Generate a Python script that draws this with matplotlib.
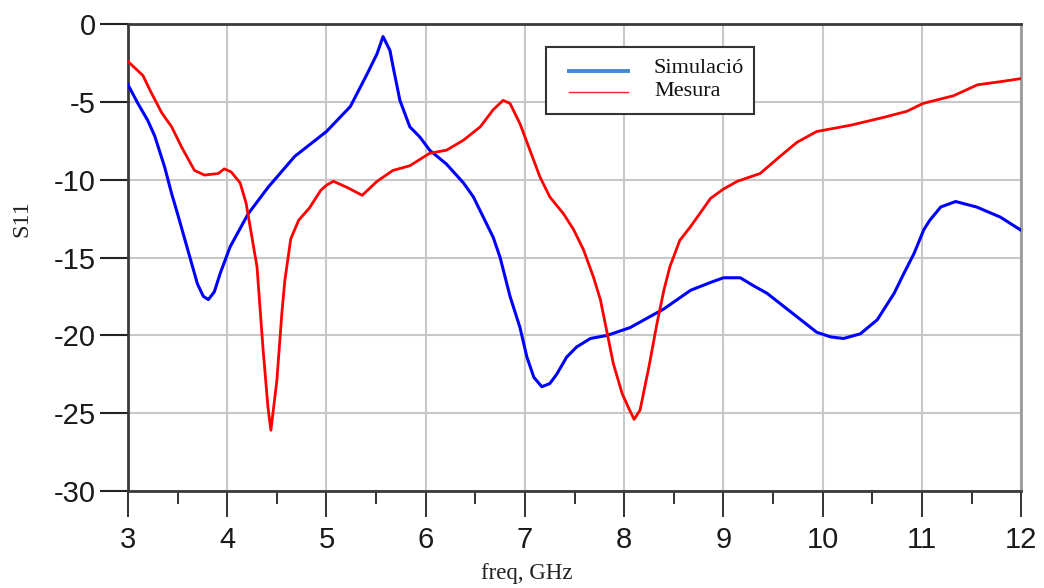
import matplotlib

matplotlib.use("Agg")
import matplotlib.pyplot as plt  # noqa: E402
from matplotlib.lines import Line2D  # noqa: E402
from matplotlib.patches import Rectangle  # noqa: E402
from matplotlib.ticker import MultipleLocator  # noqa: E402

plt.rcParams["axes.unicode_minus"] = False

sim_f = [3.0, 3.10, 3.20, 3.27, 3.37, 3.44, 3.50, 3.54, 3.70, 3.76, 3.81, 3.87,
         3.93, 4.03, 4.21, 4.41, 4.68, 5.0, 5.24, 5.41, 5.51, 5.57, 5.64, 5.67,
         5.74, 5.84, 5.94, 6.04, 6.21, 6.38, 6.48, 6.58, 6.68, 6.75, 6.85, 6.95,
         7.02, 7.09, 7.17, 7.25, 7.32, 7.42, 7.52, 7.66, 7.83, 8.06, 8.40, 8.67,
         8.87, 9.0, 9.17, 9.30, 9.44, 9.70, 9.94, 10.08, 10.21, 10.38, 10.55,
         10.72, 10.82, 10.92, 11.02, 11.08, 11.19, 11.34, 11.55, 11.79, 12.0]
sim_db = [-3.9, -5.1, -6.2, -7.2, -9.2, -10.9, -12.2, -13.1, -16.7, -17.5,
          -17.7, -17.2, -16.0, -14.3, -12.2, -10.5, -8.5, -6.9, -5.3, -3.2,
          -1.9, -0.8, -1.7, -2.7, -4.9, -6.6, -7.25, -8.1, -9.0, -10.2, -11.1,
          -12.4, -13.7, -15.0, -17.5, -19.5, -21.4, -22.7, -23.3, -23.1, -22.5,
          -21.4, -20.75, -20.2, -20.0, -19.5, -18.3, -17.1, -16.6, -16.3, -16.3,
          -16.8, -17.3, -18.6, -19.8, -20.1, -20.2, -19.9, -19.0, -17.3, -16.0,
          -14.75, -13.2, -12.6, -11.75, -11.4, -11.75, -12.4, -13.25]

meas_f = [3.0, 3.15, 3.23, 3.34, 3.44, 3.54, 3.67, 3.77, 3.91, 3.97, 4.04, 4.13,
          4.19, 4.30, 4.36, 4.41, 4.44, 4.50, 4.55, 4.58, 4.64, 4.72, 4.83,
          4.94, 5.0, 5.07, 5.21, 5.36, 5.51, 5.67, 5.84, 6.04, 6.21, 6.38, 6.55,
          6.68, 6.78, 6.85, 6.95, 7.05, 7.15, 7.25, 7.39, 7.49, 7.59, 7.69,
          7.76, 7.83, 7.89, 7.98, 8.04, 8.10, 8.16, 8.25, 8.33, 8.40, 8.46,
          8.56, 8.67, 8.87, 9.0, 9.14, 9.37, 9.57, 9.74, 9.94, 10.28, 10.61,
          10.85, 11.01, 11.32, 11.56, 11.79, 12.0]
meas_db = [-2.4, -3.3, -4.35, -5.7, -6.6, -7.9, -9.4, -9.7, -9.6, -9.3, -9.5,
           -10.2, -11.5, -15.6, -20.8, -24.6, -26.1, -22.9, -18.6, -16.5, -13.8,
           -12.6, -11.8, -10.7, -10.35, -10.1, -10.5, -11.0, -10.1, -9.4, -9.1,
           -8.3, -8.1, -7.46, -6.6, -5.5, -4.9, -5.1, -6.4, -8.1, -9.8, -11.1,
           -12.2, -13.2, -14.5, -16.25, -17.7, -19.9, -21.8, -23.75, -24.6,
           -25.4, -24.8, -22.0, -19.25, -17.1, -15.6, -13.9, -13.0, -11.2,
           -10.6, -10.1, -9.6, -8.5, -7.6, -6.9, -6.5, -6.0, -5.6, -5.1, -4.6,
           -3.9, -3.7, -3.5]

x_ticks = list(range(3, 13))
y_ticks = [0, -5, -10, -15, -20, -25, -30]
labels = ["Simulació", "Mesura"]

AX_DARK = "#3a3a3a"
GRID = "#c8c8c8"
SERIF = "Liberation Serif"
SANS = "Liberation Sans"

fig = plt.figure(figsize=(10.44, 5.88), dpi=100)
ax = fig.add_axes([0.1226, 0.165, 0.8555, 0.794])

ax.plot(sim_f, sim_db, color="#0000ff", lw=2.2, zorder=3)
ax.plot(meas_f, meas_db, color="#ff0000", lw=2.0, zorder=3)

ax.set_xlim(3, 12)
ax.set_ylim(-30, 0)
ax.set_xticks(x_ticks)
ax.set_yticks(y_ticks)
ax.xaxis.set_minor_locator(MultipleLocator(0.5))
ax.grid(True, which="major", color=GRID, lw=1.5, zorder=0)

for side in ("left", "top", "bottom"):
    ax.spines[side].set_color(AX_DARK)
    ax.spines[side].set_linewidth(2)
ax.spines["right"].set_color("#9a9a9a")
ax.spines["right"].set_linewidth(2)

ax.tick_params(axis="x", which="major", direction="out", length=19, width=1.3,
               color="#222222", pad=6, labelsize=21, labelcolor="#1a1a1a")
ax.tick_params(axis="x", which="minor", direction="out", length=9, width=1.3,
               color="#222222")
ax.tick_params(axis="y", direction="out", length=20, width=1.5,
               color="#222222", pad=3, labelsize=21, labelcolor="#1a1a1a")
for lab in ax.get_xticklabels() + ax.get_yticklabels():
    lab.set_fontfamily(SANS)

fig.text(0.021, 0.628, "S11", rotation=90, ha="center", va="center",
         fontsize=17.5, fontfamily=SERIF, color="#222222")
fig.text(0.505, 0.024, "freq, GHz", ha="center", va="center",
         fontsize=16.5, fontfamily=SERIF, color="#222222")

# legend box drawn by hand to match the original placement
fig.add_artist(Rectangle((0.523, 0.8061), 0.1992, 0.114, transform=fig.transFigure,
                         fc="white", ec="#333333", lw=1.5, zorder=5))
fig.add_artist(Line2D([0.545, 0.6015], [0.8793, 0.8793], transform=fig.transFigure,
                      color="#3f8ad0", lw=2.8, zorder=6))
fig.add_artist(Line2D([0.545, 0.6015], [0.8435, 0.8435], transform=fig.transFigure,
                      color="#ff2020", lw=1.0, zorder=6))
for txt, yb in zip(labels, [0.8753, 0.8367]):
    fig.text(0.6264, yb, txt, ha="left", va="baseline", fontsize=16,
             fontfamily=SERIF, color="#111111", zorder=7)

fig.savefig("out.png", dpi=100)
